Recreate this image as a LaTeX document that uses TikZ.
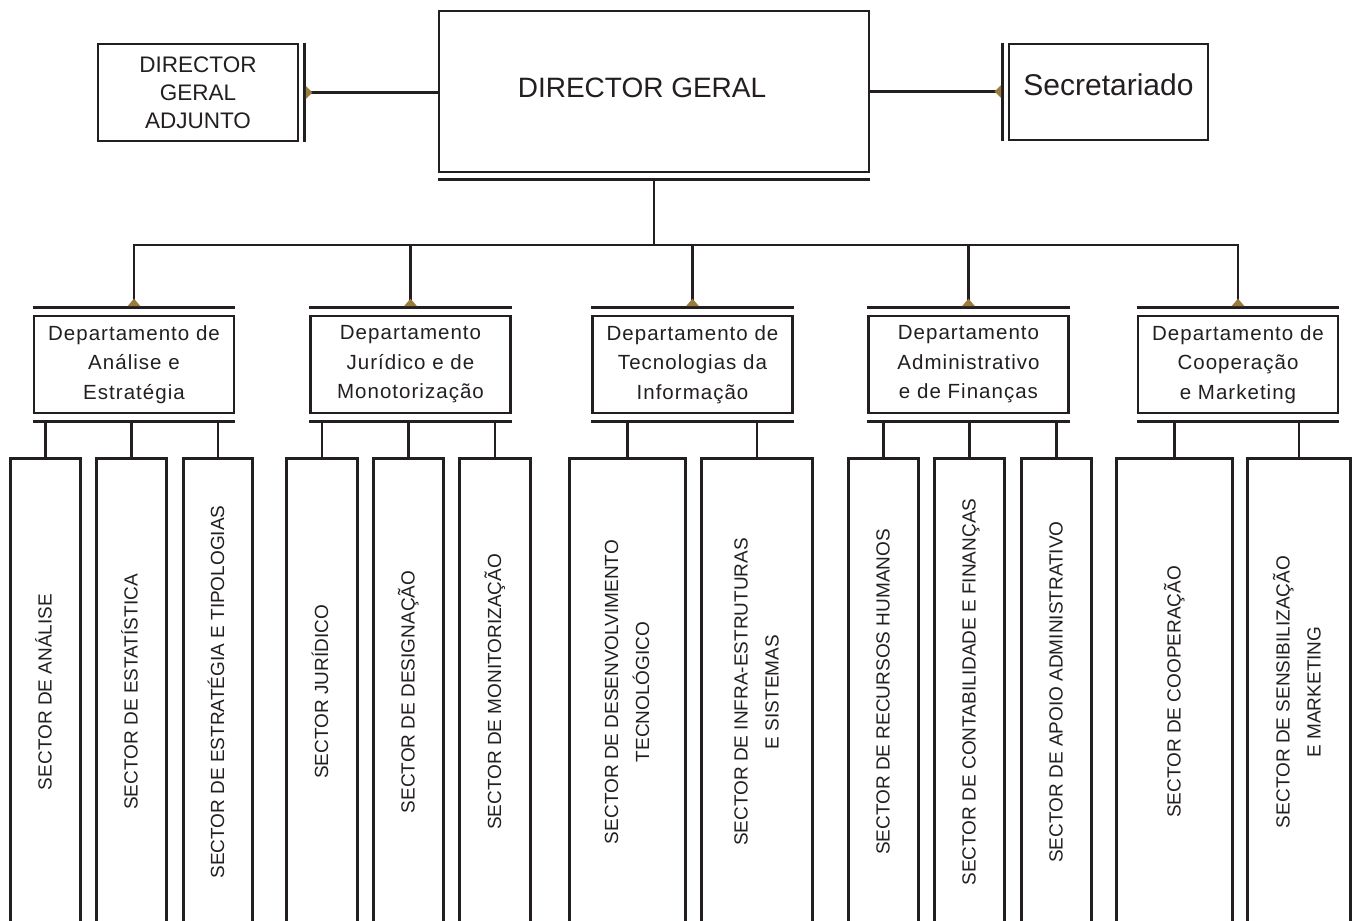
\documentclass[tikz,border=0pt]{standalone}
\usepackage{fontspec}
\usepackage{graphicx}
\setmainfont{Liberation Sans}
\newfontfamily\dinfont[LetterSpace=5]{Liberation Sans}
\newfontfamily\capfont{Liberation Sans}
\newcommand{\vtext}[1]{\rotatebox{90}{\begin{tabular}{@{}c@{}}#1\end{tabular}}}
\definecolor{gold}{HTML}{9C7B3E}
\definecolor{ink}{HTML}{231F20}
\begin{document}
\begin{tikzpicture}[x=1pt,y=-1pt,
  lw/.style={line width=2.8pt, draw=ink},
  box/.style={draw=ink, line width=2.8pt, inner sep=0pt, align=center, text=ink},
  dept/.style={box, minimum width=200pt, minimum height=97pt, font=\dinfont\fontsize{20.5}{29.5}\selectfont},
  sect/.style={inner sep=0pt, minimum height=466pt, text=ink, font=\fontsize{19}{31}\selectfont},
  tri/.style={fill=gold, draw=none}
]
\clip (0,0) rectangle (1353,921);
\fill[white] (0,0) rectangle (1353,921);

% top level
\node[box, minimum width=430pt, minimum height=161pt, font=\capfont\fontsize{28}{34}\selectfont] (dg) at (654,91.5) {\raisebox{4pt}[\height][\depth]{DIRECTOR GERAL}\hspace*{24pt}};
\node[box, minimum width=200pt, minimum height=97pt, font=\capfont\fontsize{22.5}{28}\selectfont] (dga) at (198,92.5) {DIRECTOR\\GERAL\\ADJUNTO};
\node[box, minimum width=199pt, minimum height=96pt, font=\capfont\fontsize{30}{34}\selectfont] (sec) at (1108.5,92) {\raisebox{7pt}[\height][\depth]{Secretariado}};

% departments
\node[dept] (d1) at (134,364.5) {Departamento de\\Análise e\\Estratégia};
\node[dept] (d2) at (410.5,364.5) {Departamento\\Jurídico e de\\Monotorização};
\node[dept] (d3) at (692.5,364.5) {Departamento de\\Tecnologias da\\Informação};
\node[dept] (d4) at (968.5,364.5) {Departamento\\Administrativo\\e de Finanças};
\node[dept] (d5) at (1238,364.5) {Departamento de\\Cooperação\\e Marketing};

% sectors
\node[sect, minimum width=69pt] (s1) at (45.5,692) {\vtext{SECTOR DE ANÁLISE}};
\node[sect, minimum width=69pt] (s2) at (131.5,692) {\vtext{SECTOR DE ESTATÍSTICA}};
\node[sect, minimum width=68pt] (s3) at (218,692) {\vtext{SECTOR DE ESTRATÉGIA E TIPOLOGIAS}};
\node[sect, minimum width=70pt] (s4) at (322,692) {\vtext{SECTOR JURÍDICO}};
\node[sect, minimum width=69pt] (s5) at (408.5,692) {\vtext{SECTOR DE DESIGNAÇÃO}};
\node[sect, minimum width=70pt] (s6) at (495,692) {\vtext{SECTOR DE MONITORIZAÇÃO}};
\node[sect, minimum width=115pt] (s7) at (627.5,692) {\vtext{SECTOR DE DESENVOLVIMENTO\\TECNOLÓGICO}};
\node[sect, minimum width=110pt] (s8) at (757,692) {\vtext{SECTOR DE INFRA-ESTRUTURAS\\E SISTEMAS}};
\node[sect, minimum width=69pt] (s9) at (883.5,692) {\vtext{SECTOR DE RECURSOS HUMANOS}};
\node[sect, minimum width=69pt] (s10) at (969.5,692) {\vtext{SECTOR DE CONTABILIDADE E FINANÇAS}};
\node[sect, minimum width=69pt] (s11) at (1056.5,692) {\vtext{SECTOR DE APOIO ADMINISTRATIVO}};
\node[sect, minimum width=115pt] (s12) at (1174.5,692) {\vtext{SECTOR DE COOPERAÇÃO}};
\node[sect, minimum width=102pt] (s13) at (1299,692) {\vtext{SECTOR DE SENSIBILIZAÇÃO\\E MARKETING}};

\foreach \s in {s1,s2,s3,s4,s5,s6,s7,s8,s9,s10,s11,s12,s13}
  \draw[lw] (\s.south west) -- (\s.north west) -- (\s.north east) -- (\s.south east);

% bars
\coordinate (dgab) at ([xshift=5pt]dga.east);
\coordinate (secb) at ([xshift=-5pt]sec.west);
\draw[lw] ([yshift=-6pt]dg.south west) -- ([yshift=-6pt]dg.south east);
\draw[lw] ([xshift=5pt]dga.north east) -- ([xshift=5pt]dga.south east);
\draw[lw] ([xshift=-5pt]sec.north west) -- ([xshift=-5pt]sec.south west);
\foreach \d in {d1,d2,d3,d4,d5} {
  \coordinate (\d tb) at ([yshift=7pt]\d.north);
  \coordinate (\d bb) at ([yshift=-7pt]\d.south);
  \draw[lw] ([yshift=7pt]\d.north west) -- ([yshift=7pt]\d.north east);
  \draw[lw] ([yshift=-7pt]\d.south west) -- ([yshift=-7pt]\d.south east);
}

% connectors
\coordinate (bus) at (654,245);
\draw[lw] ([yshift=-6pt]dg.south) -- (bus);
\draw[lw] (d1tb) -- (d1.north |- bus) -- (d5.north |- bus) -- (d5tb);
\foreach \d in {d2,d3,d4}
  \draw[lw] (\d.north |- bus) -- (\d tb);
\draw[lw] (dgab) -- (dgab -| dg.west);
\draw[lw] (dg.east) -- (dg.east -| secb);

\foreach \d/\s in {d1/s1,d1/s2,d1/s3,d2/s4,d2/s5,d2/s6,d3/s7,d3/s8,d4/s9,d4/s10,d4/s11,d5/s12,d5/s13}
  \draw[lw] (\s.north) -- (\s.north |- \d bb);

% gold markers
\foreach \d in {d1,d2,d3,d4,d5}
  \fill[tri] ([yshift=8.4pt]\d.north) ++(-6.5,0) -- ++(13,0) -- ++(-6.5,-7.5) -- cycle;
\fill[tri] ([xshift=1.4pt]dgab) ++(0,-6.5) -- ++(0,13) -- ++(6.5,-6.5) -- cycle;
\fill[tri] ([xshift=-1.4pt]secb |- dg.east) ++(0,-6.5) -- ++(0,13) -- ++(-6.5,-6.5) -- cycle;
\end{tikzpicture}
\end{document}
